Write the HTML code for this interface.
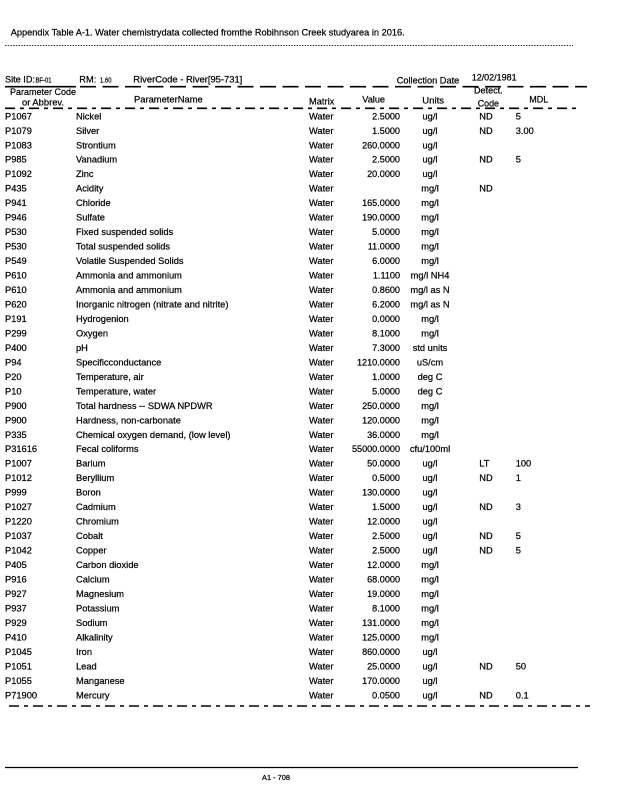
<!DOCTYPE html>
<html><head><meta charset="utf-8">
<style>
html,body{margin:0;padding:0;background:#fff;}
svg{display:block;}
text{font-family:"Liberation Sans",Arial,sans-serif;fill:#000;stroke:#000;stroke-width:0.22px;}
.t{font-size:9.3px;}
.v{font-size:9.1px;}
.s{font-size:7.2px;}
</style></head>
<body>
<svg width="618" height="800" viewBox="0 0 618 800" xmlns="http://www.w3.org/2000/svg">
<rect width="618" height="800" fill="#fff"/>
<!-- title -->
<text class="t" x="10.7" y="35.3" textLength="394" lengthAdjust="spacingAndGlyphs">Appendix Table A-1. Water chemistrydata collected fromthe Robihnson Creek studyarea in 2016.</text>
<line x1="5" y1="45.5" x2="573" y2="45.5" stroke="#333" stroke-width="1" stroke-dasharray="1.5 1.2"/>

<!-- header line 1 -->
<text class="t" x="5" y="82.3" textLength="30" lengthAdjust="spacingAndGlyphs">Site ID:</text>
<text class="s" x="35.5" y="82.3" textLength="16" lengthAdjust="spacingAndGlyphs">BF-01</text>
<text class="t" x="79.3" y="82.3" textLength="17" lengthAdjust="spacingAndGlyphs">RM:</text>
<text class="s" x="100" y="82.3" textLength="11.5" lengthAdjust="spacingAndGlyphs">1.60</text>
<text class="t" x="133.3" y="82.3" textLength="109" lengthAdjust="spacingAndGlyphs">RiverCode - River[95-731]</text>
<text class="t" x="396.7" y="83.3" textLength="62.6" lengthAdjust="spacingAndGlyphs">Collection Date</text>
<text class="t" x="471.7" y="80.6" textLength="45" lengthAdjust="spacingAndGlyphs">12/02/1981</text>

<!-- top dashed line -->
<line x1="5" y1="86.7" x2="76" y2="86.7" stroke="#000" stroke-width="1.6"/>
<line x1="80" y1="86.7" x2="587" y2="86.7" stroke="#000" stroke-width="1.6" stroke-dasharray="16 6.5"/>

<!-- header line 2 -->
<text class="t" x="10" y="94.8" textLength="66" lengthAdjust="spacingAndGlyphs">Parameter Code</text>
<text class="t" x="22" y="105.3" textLength="42" lengthAdjust="spacingAndGlyphs">or Abbrev.</text>
<text class="t" x="134" y="102.6" textLength="68.7" lengthAdjust="spacingAndGlyphs">ParameterName</text>
<text class="t" x="309" y="104.3" textLength="25.3" lengthAdjust="spacingAndGlyphs">Matrix</text>
<text class="t" x="362.3" y="102.6" textLength="22.7" lengthAdjust="spacingAndGlyphs">Value</text>
<text class="t" x="422.3" y="103.3" textLength="21.7" lengthAdjust="spacingAndGlyphs">Units</text>
<text class="t" x="474" y="93.3" textLength="28.7" lengthAdjust="spacingAndGlyphs">Detect.</text>
<text class="t" x="477.7" y="106.6" textLength="21.3" lengthAdjust="spacingAndGlyphs">Code</text>
<text class="t" x="529.3" y="102.6" textLength="19" lengthAdjust="spacingAndGlyphs">MDL</text>

<line x1="5" y1="108.3" x2="580" y2="108.3" stroke="#000" stroke-width="1.6" stroke-dasharray="10 5 4 5"/>

<!-- rows -->
<g class="t">
<g transform="translate(0,119.3)"><text x="5">P1067</text><text x="76">Nickel</text><text x="309">Water</text><text class="v" x="400" text-anchor="end">2.5000</text><text x="430" text-anchor="middle">ug/l</text><text x="479.3">ND</text><text x="515.7">5</text></g>
<g transform="translate(0,133.78)"><text x="5">P1079</text><text x="76">Silver</text><text x="309">Water</text><text class="v" x="400" text-anchor="end">1.5000</text><text x="430" text-anchor="middle">ug/l</text><text x="479.3">ND</text><text x="515.7">3.00</text></g>
<g transform="translate(0,148.25)"><text x="5">P1083</text><text x="76">Strontium</text><text x="309">Water</text><text class="v" x="400" text-anchor="end">260.0000</text><text x="430" text-anchor="middle">ug/l</text></g>
<g transform="translate(0,162.73)"><text x="5">P985</text><text x="76">Vanadium</text><text x="309">Water</text><text class="v" x="400" text-anchor="end">2.5000</text><text x="430" text-anchor="middle">ug/l</text><text x="479.3">ND</text><text x="515.7">5</text></g>
<g transform="translate(0,177.2)"><text x="5">P1092</text><text x="76">Zinc</text><text x="309">Water</text><text class="v" x="400" text-anchor="end">20.0000</text><text x="430" text-anchor="middle">ug/l</text></g>
<g transform="translate(0,191.68)"><text x="5">P435</text><text x="76">Acidity</text><text x="309">Water</text><text x="430" text-anchor="middle">mg/l</text><text x="479.3">ND</text></g>
<g transform="translate(0,206.15)"><text x="5">P941</text><text x="76">Chloride</text><text x="309">Water</text><text class="v" x="400" text-anchor="end">165.0000</text><text x="430" text-anchor="middle">mg/l</text></g>
<g transform="translate(0,220.63)"><text x="5">P946</text><text x="76">Sulfate</text><text x="309">Water</text><text class="v" x="400" text-anchor="end">190.0000</text><text x="430" text-anchor="middle">mg/l</text></g>
<g transform="translate(0,235.1)"><text x="5">P530</text><text x="76">Fixed suspended solids</text><text x="309">Water</text><text class="v" x="400" text-anchor="end">5.0000</text><text x="430" text-anchor="middle">mg/l</text></g>
<g transform="translate(0,249.58)"><text x="5">P530</text><text x="76">Total suspended solids</text><text x="309">Water</text><text class="v" x="400" text-anchor="end">11.0000</text><text x="430" text-anchor="middle">mg/l</text></g>
<g transform="translate(0,264.05)"><text x="5">P549</text><text x="76">Volatile Suspended Solids</text><text x="309">Water</text><text class="v" x="400" text-anchor="end">6.0000</text><text x="430" text-anchor="middle">mg/l</text></g>
<g transform="translate(0,278.53)"><text x="5">P610</text><text x="76">Ammonia and ammonium</text><text x="309">Water</text><text class="v" x="400" text-anchor="end">1.1100</text><text x="430" text-anchor="middle">mg/l NH4</text></g>
<g transform="translate(0,293.0)"><text x="5">P610</text><text x="76">Ammonia and ammonium</text><text x="309">Water</text><text class="v" x="400" text-anchor="end">0.8600</text><text x="430" text-anchor="middle">mg/l as N</text></g>
<g transform="translate(0,307.48)"><text x="5">P620</text><text x="76">Inorganic nitrogen (nitrate and nitrite)</text><text x="309">Water</text><text class="v" x="400" text-anchor="end">6.2000</text><text x="430" text-anchor="middle">mg/l as N</text></g>
<g transform="translate(0,321.95)"><text x="5">P191</text><text x="76">Hydrogenion</text><text x="309">Water</text><text class="v" x="400" text-anchor="end">0.0000</text><text x="430" text-anchor="middle">mg/l</text></g>
<g transform="translate(0,336.43)"><text x="5">P299</text><text x="76">Oxygen</text><text x="309">Water</text><text class="v" x="400" text-anchor="end">8.1000</text><text x="430" text-anchor="middle">mg/l</text></g>
<g transform="translate(0,350.9)"><text x="5">P400</text><text x="76">pH</text><text x="309">Water</text><text class="v" x="400" text-anchor="end">7.3000</text><text x="430" text-anchor="middle">std units</text></g>
<g transform="translate(0,365.38)"><text x="5">P94</text><text x="76">Specificconductance</text><text x="309">Water</text><text class="v" x="400" text-anchor="end">1210.0000</text><text x="430" text-anchor="middle">uS/cm</text></g>
<g transform="translate(0,379.85)"><text x="5">P20</text><text x="76">Temperature, air</text><text x="309">Water</text><text class="v" x="400" text-anchor="end">1.0000</text><text x="430" text-anchor="middle">deg C</text></g>
<g transform="translate(0,394.33)"><text x="5">P10</text><text x="76">Temperature, water</text><text x="309">Water</text><text class="v" x="400" text-anchor="end">5.0000</text><text x="430" text-anchor="middle">deg C</text></g>
<g transform="translate(0,408.8)"><text x="5">P900</text><text x="76">Total hardness -- SDWA NPDWR</text><text x="309">Water</text><text class="v" x="400" text-anchor="end">250.0000</text><text x="430" text-anchor="middle">mg/l</text></g>
<g transform="translate(0,423.28)"><text x="5">P900</text><text x="76">Hardness, non-carbonate</text><text x="309">Water</text><text class="v" x="400" text-anchor="end">120.0000</text><text x="430" text-anchor="middle">mg/l</text></g>
<g transform="translate(0,437.75)"><text x="5">P335</text><text x="76">Chemical oxygen demand, (low level)</text><text x="309">Water</text><text class="v" x="400" text-anchor="end">36.0000</text><text x="430" text-anchor="middle">mg/l</text></g>
<g transform="translate(0,452.23)"><text x="5">P31616</text><text x="76">Fecal coliforms</text><text x="309">Water</text><text class="v" x="400" text-anchor="end">55000.0000</text><text x="430" text-anchor="middle">cfu/100ml</text></g>
<g transform="translate(0,466.7)"><text x="5">P1007</text><text x="76">Barium</text><text x="309">Water</text><text class="v" x="400" text-anchor="end">50.0000</text><text x="430" text-anchor="middle">ug/l</text><text x="479.3">LT</text><text x="515.7">100</text></g>
<g transform="translate(0,481.18)"><text x="5">P1012</text><text x="76">Beryllium</text><text x="309">Water</text><text class="v" x="400" text-anchor="end">0.5000</text><text x="430" text-anchor="middle">ug/l</text><text x="479.3">ND</text><text x="515.7">1</text></g>
<g transform="translate(0,495.65)"><text x="5">P999</text><text x="76">Boron</text><text x="309">Water</text><text class="v" x="400" text-anchor="end">130.0000</text><text x="430" text-anchor="middle">ug/l</text></g>
<g transform="translate(0,510.13)"><text x="5">P1027</text><text x="76">Cadmium</text><text x="309">Water</text><text class="v" x="400" text-anchor="end">1.5000</text><text x="430" text-anchor="middle">ug/l</text><text x="479.3">ND</text><text x="515.7">3</text></g>
<g transform="translate(0,524.6)"><text x="5">P1220</text><text x="76">Chromium</text><text x="309">Water</text><text class="v" x="400" text-anchor="end">12.0000</text><text x="430" text-anchor="middle">ug/l</text></g>
<g transform="translate(0,539.08)"><text x="5">P1037</text><text x="76">Cobalt</text><text x="309">Water</text><text class="v" x="400" text-anchor="end">2.5000</text><text x="430" text-anchor="middle">ug/l</text><text x="479.3">ND</text><text x="515.7">5</text></g>
<g transform="translate(0,553.55)"><text x="5">P1042</text><text x="76">Copper</text><text x="309">Water</text><text class="v" x="400" text-anchor="end">2.5000</text><text x="430" text-anchor="middle">ug/l</text><text x="479.3">ND</text><text x="515.7">5</text></g>
<g transform="translate(0,568.03)"><text x="5">P405</text><text x="76">Carbon dioxide</text><text x="309">Water</text><text class="v" x="400" text-anchor="end">12.0000</text><text x="430" text-anchor="middle">mg/l</text></g>
<g transform="translate(0,582.5)"><text x="5">P916</text><text x="76">Calcium</text><text x="309">Water</text><text class="v" x="400" text-anchor="end">68.0000</text><text x="430" text-anchor="middle">mg/l</text></g>
<g transform="translate(0,596.98)"><text x="5">P927</text><text x="76">Magnesium</text><text x="309">Water</text><text class="v" x="400" text-anchor="end">19.0000</text><text x="430" text-anchor="middle">mg/l</text></g>
<g transform="translate(0,611.45)"><text x="5">P937</text><text x="76">Potassium</text><text x="309">Water</text><text class="v" x="400" text-anchor="end">8.1000</text><text x="430" text-anchor="middle">mg/l</text></g>
<g transform="translate(0,625.93)"><text x="5">P929</text><text x="76">Sodium</text><text x="309">Water</text><text class="v" x="400" text-anchor="end">131.0000</text><text x="430" text-anchor="middle">mg/l</text></g>
<g transform="translate(0,640.4)"><text x="5">P410</text><text x="76">Alkalinity</text><text x="309">Water</text><text class="v" x="400" text-anchor="end">125.0000</text><text x="430" text-anchor="middle">mg/l</text></g>
<g transform="translate(0,654.88)"><text x="5">P1045</text><text x="76">Iron</text><text x="309">Water</text><text class="v" x="400" text-anchor="end">860.0000</text><text x="430" text-anchor="middle">ug/l</text></g>
<g transform="translate(0,669.35)"><text x="5">P1051</text><text x="76">Lead</text><text x="309">Water</text><text class="v" x="400" text-anchor="end">25.0000</text><text x="430" text-anchor="middle">ug/l</text><text x="479.3">ND</text><text x="515.7">50</text></g>
<g transform="translate(0,683.83)"><text x="5">P1055</text><text x="76">Manganese</text><text x="309">Water</text><text class="v" x="400" text-anchor="end">170.0000</text><text x="430" text-anchor="middle">ug/l</text></g>
<g transform="translate(0,698.3)"><text x="5">P71900</text><text x="76">Mercury</text><text x="309">Water</text><text class="v" x="400" text-anchor="end">0.0500</text><text x="430" text-anchor="middle">ug/l</text><text x="479.3">ND</text><text x="515.7">0.1</text></g>
</g>

<line x1="9" y1="706" x2="590" y2="706" stroke="#000" stroke-width="1.6" stroke-dasharray="10 5 4 5"/>

<!-- footer -->
<line x1="5" y1="767.5" x2="578" y2="767.5" stroke="#000" stroke-width="1.2"/>
<text x="262" y="780" style="font-size:7px" textLength="28" lengthAdjust="spacingAndGlyphs">A1 - 708</text>
</svg>
</body></html>
